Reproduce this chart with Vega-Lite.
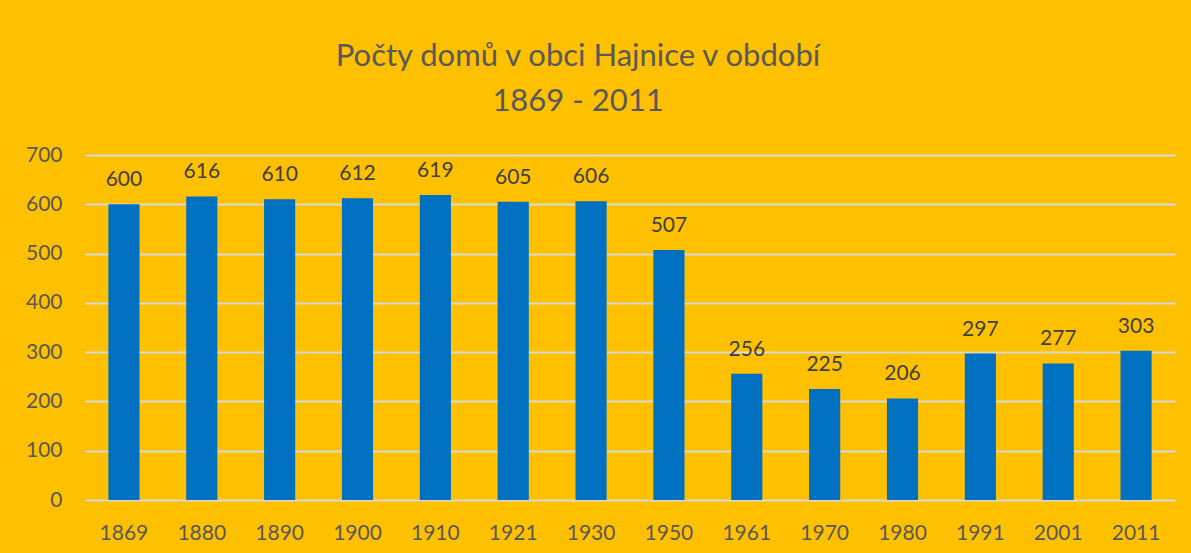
{
  "$schema": "https://vega.github.io/schema/vega-lite/v6.json",
  "width": 1090,
  "height": 345,
  "autosize": {"type": "none"},
  "padding": {"left": 85, "top": 155, "right": 16, "bottom": 53},
  "background": "#FFC000",
  "title": {
    "text": ["Počty domů v obci Hajnice v období", "1869 - 2011"],
    "font": "Lato",
    "fontSize": 31,
    "fontWeight": "normal",
    "color": "#595959",
    "anchor": "middle",
    "dx": -52,
    "lineHeight": 45,
    "baseline": "alphabetic",
    "offset": 2
  },
  "config": {
    "view": {"stroke": null},
    "font": "Lato"
  },
  "data": {
    "values": [
      {"rok": "1869", "domy": 600},
      {"rok": "1880", "domy": 616},
      {"rok": "1890", "domy": 610},
      {"rok": "1900", "domy": 612},
      {"rok": "1910", "domy": 619},
      {"rok": "1921", "domy": 605},
      {"rok": "1930", "domy": 606},
      {"rok": "1950", "domy": 507},
      {"rok": "1961", "domy": 256},
      {"rok": "1970", "domy": 225},
      {"rok": "1980", "domy": 206},
      {"rok": "1991", "domy": 297},
      {"rok": "2001", "domy": 277},
      {"rok": "2011", "domy": 303}
    ]
  },
  "encoding": {
    "x": {
      "field": "rok",
      "type": "nominal",
      "sort": null,
      "scale": {"paddingInner": 0.6, "paddingOuter": 0.3},
      "axis": {
        "title": null,
        "labelAngle": 0,
        "labelFont": "Lato",
        "labelFontSize": 21,
        "labelColor": "#595959",
        "labelPadding": 22,
        "ticks": false,
        "domain": false
      }
    },
    "y": {
      "field": "domy",
      "type": "quantitative",
      "scale": {"domain": [0, 700]},
      "axis": {
        "title": null,
        "values": [0, 100, 200, 300, 400, 500, 600, 700],
        "labelFont": "Lato",
        "labelFontSize": 21,
        "labelColor": "#595959",
        "labelPadding": 23,
        "ticks": false,
        "domain": false,
        "grid": true,
        "gridColor": "#D9D9D9",
        "gridWidth": 2
      }
    }
  },
  "layer": [
    {"mark": {"type": "bar", "color": "#0070C0"}},
    {
      "mark": {"type": "text", "baseline": "alphabetic", "dy": -18, "fontSize": 21, "font": "Lato", "color": "#404040"},
      "encoding": {"text": {"field": "domy", "type": "quantitative"}}
    }
  ]
}
